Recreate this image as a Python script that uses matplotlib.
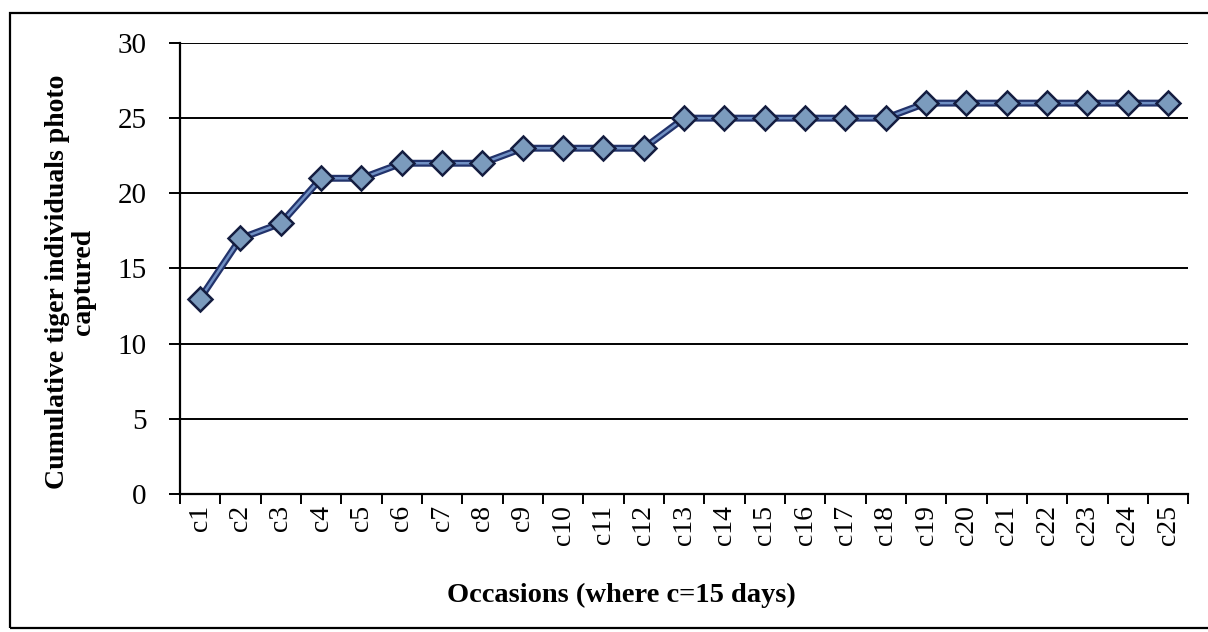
import matplotlib.pyplot as plt
from matplotlib.patches import Rectangle
from matplotlib.ticker import FixedLocator

plt.rcParams['font.family'] = ['Liberation Serif', 'DejaVu Serif']

occasions = [f'c{i}' for i in range(1, 26)]
cumulative = [13, 17, 18, 21, 21, 22, 22, 22, 23, 23, 23, 23,
              25, 25, 25, 25, 25, 25, 26, 26, 26, 26, 26, 26, 26]
y_ticks = [0, 5, 10, 15, 20, 25, 30]

fig = plt.figure(figsize=(12.08, 6.32), dpi=100)
ax = fig.add_axes([0.149, 0.2184, 0.8346, 0.7136])

# border around the whole chart area
fig.patches.append(Rectangle((0.0083, 0.0063), 1.2, 0.973,
                             transform=fig.transFigure, fill=False,
                             edgecolor='black', linewidth=1.6))

x = list(range(len(occasions)))
for yv in y_ticks[1:]:
    ax.axhline(yv, color='black', linewidth=1.4, zorder=1)

ax.plot(x, cumulative, color='#22336b', linewidth=5, zorder=2)
ax.plot(x, cumulative, color='#7090c4', linewidth=1.8, zorder=3)
ax.plot(x, cumulative, linestyle='none', marker='D', markersize=12.5,
        markerfacecolor='#7b9bbd', markeredgecolor='#141d40',
        markeredgewidth=1.8, zorder=4)

ax.set_xlim(-0.5, len(occasions) - 0.5)
ax.set_ylim(0, 30)
ax.set_yticks(y_ticks)
ax.set_xticks(x)
ax.set_xticklabels(occasions, rotation=90)
ax.xaxis.set_minor_locator(FixedLocator([i - 0.5 for i in range(len(occasions) + 1)]))
ax.tick_params(axis='x', which='major', length=0, pad=8, labelsize=20)
ax.tick_params(axis='x', which='minor', length=7, width=1.4, direction='out')
ax.tick_params(axis='y', length=8, width=1.4, pad=16, labelsize=21)

for side in ['top', 'right']:
    ax.spines[side].set_visible(False)
for side in ['left', 'bottom']:
    ax.spines[side].set_linewidth(1.6)

ax.set_ylabel('Cumulative tiger individuals photo\ncaptured',
              fontsize=20, fontweight='bold', linespacing=1.05)
ax.yaxis.set_label_coords(-0.083, 0.47)
ax.set_xlabel('Occasions (where c=15 days)', fontsize=20.5, fontweight='bold')
ax.xaxis.set_label_coords(0.4375, -0.196)

fig.savefig('out.png', dpi=100)
